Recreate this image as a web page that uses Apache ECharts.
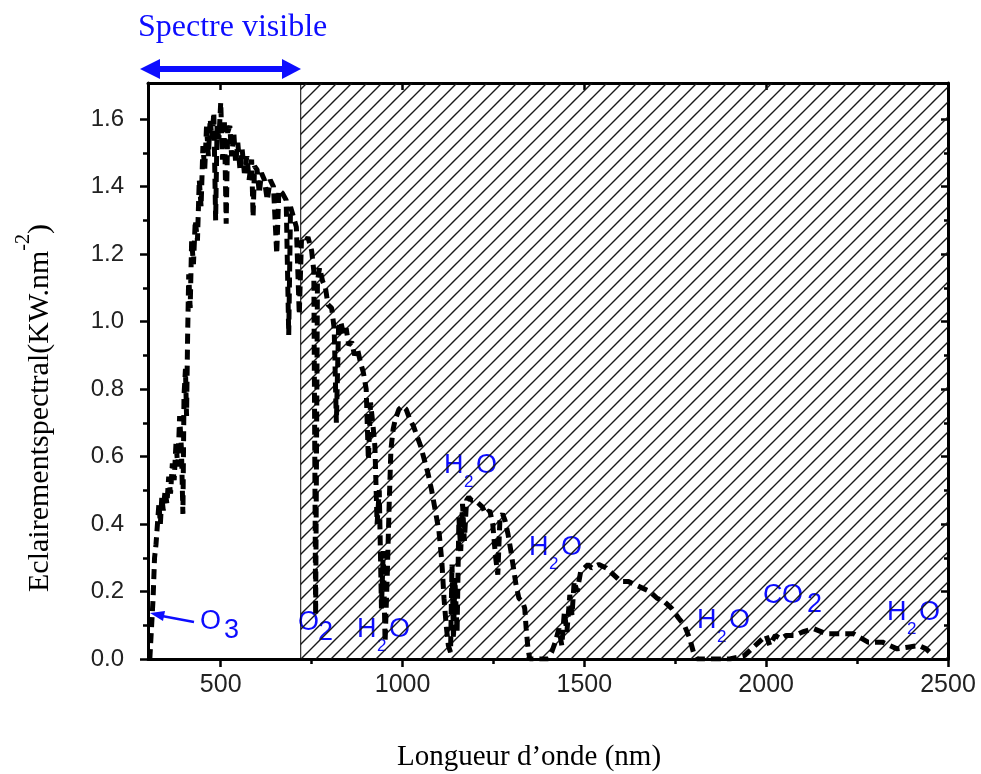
<!DOCTYPE html>
<html>
<head>
<meta charset="utf-8">
<script src="https://cdn.jsdelivr.net/npm/echarts@6.0.0/dist/echarts.min.js"></script>
<style>
  html, body { margin: 0; padding: 0; background: #fff; }
  #chart { width: 981px; height: 774px; }
</style>
</head>
<body>
<div id="chart"></div>
<script>
// spectre solaire (nm, kW)
const wavelength = [
  305, 310, 314, 318, 322, 326, 330, 334, 338, 342,
  347, 352, 357, 362, 367, 372, 377, 382, 387, 392,
  396, 399, 403, 406, 409, 412, 416, 420, 425, 430,
  436, 441, 446, 451, 456, 461, 466, 471, 476, 481,
  486, 490, 495, 500, 505, 510, 515, 519, 525, 530,
  536, 541, 547, 553, 559, 565, 572, 578, 585, 589,
  593, 600, 606, 612, 620, 628, 636, 645, 654, 660,
  670, 680, 687, 692, 700, 708, 716, 722, 730, 740,
  750, 756, 761, 766, 772, 780, 788, 795, 805, 812,
  818, 824, 830, 838, 845, 852, 860, 868, 876, 884,
  892, 900, 906, 912, 918, 924, 930, 936, 942, 947,
  952, 958, 963, 968, 974, 980, 990, 1000, 1010, 1020,
  1030, 1040, 1050, 1060, 1070, 1080, 1090, 1100, 1108, 1114,
  1120, 1126, 1132, 1136, 1140, 1144, 1150, 1155, 1160, 1165,
  1170, 1176, 1182, 1190, 1200, 1210, 1220, 1228, 1240, 1248,
  1256, 1262, 1268, 1275, 1282, 1290, 1298, 1305, 1312, 1320,
  1330, 1336, 1340, 1345, 1350, 1400, 1410, 1420, 1430, 1438,
  1445, 1452, 1460, 1466, 1472, 1480, 1490, 1500, 1510, 1520,
  1540, 1560, 1580, 1600, 1620, 1640, 1660, 1680, 1700, 1720,
  1740, 1760, 1775, 1790, 1800, 1810, 1850, 1900, 1940, 1960,
  1980, 2000, 2010, 2025, 2040, 2055, 2080, 2100, 2130, 2165,
  2200, 2240, 2280, 2320, 2360, 2390, 2420, 2440, 2460
]
const irradiance = [
  0.00, 0.10, 0.18, 0.30, 0.34, 0.40, 0.46, 0.40, 0.48, 0.44,
  0.50, 0.46, 0.54, 0.49, 0.58, 0.53, 0.64, 0.57, 0.72, 0.62,
  0.43, 0.78, 0.86, 0.72, 0.96, 1.14, 1.04, 1.24, 1.17, 1.30,
  1.24, 1.42, 1.34, 1.52, 1.45, 1.58, 1.49, 1.60, 1.54, 1.62,
  1.30, 1.58, 1.54, 1.65, 1.48, 1.60, 1.29, 1.56, 1.58, 1.49,
  1.56, 1.47, 1.53, 1.45, 1.51, 1.44, 1.49, 1.42, 1.48, 1.31,
  1.46, 1.45, 1.38, 1.44, 1.42, 1.36, 1.42, 1.40, 1.20, 1.39,
  1.38, 1.36, 0.96, 1.34, 1.31, 1.28, 1.02, 1.24, 1.23, 1.25,
  1.21, 1.15, 0.13, 1.12, 1.16, 1.12, 1.10, 1.05, 1.04, 0.98,
  0.70, 0.98, 1.00, 0.96, 0.98, 0.93, 0.94, 0.90, 0.92, 0.88,
  0.85, 0.80, 0.59, 0.76, 0.70, 0.63, 0.40, 0.50, 0.15, 0.32,
  0.05, 0.25, 0.45, 0.62, 0.68, 0.71, 0.74, 0.75, 0.74, 0.71,
  0.69, 0.66, 0.63, 0.59, 0.55, 0.50, 0.44, 0.38, 0.29, 0.18,
  0.10, 0.04, 0.02, 0.28, 0.06, 0.24, 0.08, 0.42, 0.32, 0.46,
  0.35, 0.47, 0.48, 0.47, 0.47, 0.46, 0.45, 0.43, 0.44, 0.40,
  0.30, 0.25, 0.42, 0.43, 0.41, 0.37, 0.32, 0.27, 0.22, 0.18,
  0.17, 0.15, 0.09, 0.03, 0.00, 0.00, 0.02, 0.05, 0.09, 0.04,
  0.14, 0.08, 0.19, 0.13, 0.23, 0.20, 0.26, 0.27, 0.28, 0.27,
  0.28, 0.27, 0.25, 0.23, 0.23, 0.22, 0.21, 0.20, 0.18, 0.17,
  0.15, 0.12, 0.10, 0.06, 0.02, 0.00, 0.00, 0.00, 0.01, 0.03,
  0.05, 0.07, 0.04, 0.07, 0.06, 0.07, 0.07, 0.08, 0.09, 0.075,
  0.075, 0.075, 0.05, 0.05, 0.03, 0.035, 0.04, 0.03, 0.01
]

const xTicks = [500, 1000, 1500, 2000, 2500]
const xMinorTicks = [750, 1250, 1750, 2250]
const yTicks = [0, 0.2, 0.4, 0.6, 0.8, 1.0, 1.2, 1.4, 1.6]
const yMinorTicks = [0.1, 0.3, 0.5, 0.7, 0.9, 1.1, 1.3, 1.5]
const infraredStart = 720

const X_MIN = 300
const X_MAX = 2500
const Y_MAX = 1.707
const BLUE = '#0d0dff'
const SANS = "'Liberation Sans', Arial, sans-serif"
const SERIF = "'Liberation Serif', 'Times New Roman', serif"

// hachures obliques pour la zone infrarouge
const makeHatch = () => {
  const s = 15
  const c = document.createElement('canvas')
  c.width = s
  c.height = s
  const ctx = c.getContext('2d')
  ctx.strokeStyle = '#1a1a1a'
  ctx.lineWidth = 1.4
  ctx.beginPath()
  ctx.moveTo(0, s); ctx.lineTo(s, 0)
  ctx.moveTo(-2, 2); ctx.lineTo(2, -2)
  ctx.moveTo(s - 2, s + 2); ctx.lineTo(s + 2, s - 2)
  ctx.stroke()
  return c
}

const xAxisBase = (extra) => Object.assign({
  type: 'value', min: X_MIN, max: X_MAX,
  splitLine: { show: false },
  axisLine: { show: false },
  axisLabel: { show: false },
  axisTick: { show: false }
}, extra)

const yAxisBase = (extra) => Object.assign({
  type: 'value', min: 0, max: Y_MAX,
  splitLine: { show: false },
  axisLine: { show: false },
  axisLabel: { show: false },
  axisTick: { show: false }
}, extra)

const tickStyle = { color: '#000', width: 2.5 }

const txt = (x, y, s, size, fill, font, extra) => ({
  type: 'text', x, y, silent: true,
  style: Object.assign({ text: s, fontSize: size, fontFamily: font, fill, verticalAlign: 'middle', align: 'left' }, extra)
})

const h2o = (x, y) => [
  txt(x - 1, y, 'H', 27, BLUE, SANS),
  txt(x + 19, y + 16, '2', 17, BLUE, SANS),
  txt(x + 31, y, 'O', 27, BLUE, SANS)
]

const graphics = [
  txt(138, 28, 'Spectre visible', 32, BLUE, SERIF),
  { type: 'line', silent: true, shape: { x1: 156, y1: 69, x2: 286, y2: 69 }, style: { stroke: BLUE, lineWidth: 6 } },
  { type: 'polygon', silent: true, shape: { points: [[140, 69], [160, 59], [160, 79]] }, style: { fill: BLUE } },
  { type: 'polygon', silent: true, shape: { points: [[301, 69], [282, 59], [282, 79]] }, style: { fill: BLUE } },
  // O3
  { type: 'line', silent: true, shape: { x1: 194, y1: 622, x2: 162, y2: 616 }, style: { stroke: BLUE, lineWidth: 2.5 } },
  { type: 'polygon', silent: true, shape: { points: [[150, 613], [165, 611], [163, 621]] }, style: { fill: BLUE } },
  txt(200, 622, 'O', 27, BLUE, SANS),
  txt(224, 631, '3', 27, BLUE, SANS),
  // O2
  txt(298, 623, 'O', 27, BLUE, SANS),
  txt(318, 633, '2', 27, BLUE, SANS),
  // CO2
  txt(763, 596, 'C', 27, BLUE, SANS),
  txt(782, 596, 'O', 27, BLUE, SANS),
  txt(807, 605, '2', 27, BLUE, SANS),
  ...h2o(358, 630),
  ...h2o(445, 466),
  ...h2o(530, 548),
  ...h2o(698, 621),
  ...h2o(888, 613),
  // titres des axes
  txt(529, 757, 'Longueur d\u2019onde (nm)', 29, '#000', SERIF, { align: 'center' }),
  {
    type: 'text', x: 40, y: 408, rotation: Math.PI / 2, silent: true,
    style: {
      text: '{a|Eclairementspectral(KW.nm}{s|-2}{a|)}',
      align: 'center', verticalAlign: 'middle', fill: '#000',
      rich: {
        a: { fontSize: 30, fontFamily: SERIF, lineHeight: 32 },
        s: { fontSize: 20, fontFamily: SERIF, lineHeight: 20, padding: [0, 0, 32, 0] }
      }
    }
  }
]

const chart = echarts.init(document.getElementById('chart'))
chart.setOption({
  animation: false,
  backgroundColor: '#fff',
  grid: { left: 148, right: 33, top: 83, bottom: 115 },
  xAxis: [
    xAxisBase({
      position: 'bottom',
      axisLine: { show: true, onZero: false, lineStyle: { color: '#000', width: 3 } },
      axisTick: { show: true, length: 8, customValues: xTicks, lineStyle: tickStyle },
      axisLabel: {
        show: true, customValues: xTicks, margin: 14, fontSize: 25, fontFamily: SANS, color: '#222',
        formatter: (v) => String(v)
      }
    }),
    xAxisBase({ position: 'bottom', axisTick: { show: true, length: 5, customValues: xMinorTicks, lineStyle: tickStyle } }),
    xAxisBase({
      position: 'top',
      axisLine: { show: true, onZero: false, lineStyle: { color: '#000', width: 3 } },
      axisTick: { show: true, inside: true, length: 7, customValues: xTicks, lineStyle: tickStyle }
    }),
    xAxisBase({ position: 'top', axisTick: { show: true, inside: true, length: 4, customValues: xMinorTicks, lineStyle: tickStyle } })
  ],
  yAxis: [
    yAxisBase({
      position: 'left',
      axisLine: { show: true, onZero: false, lineStyle: { color: '#000', width: 3 } },
      axisTick: { show: true, length: 8, customValues: yTicks, lineStyle: tickStyle },
      axisLabel: {
        show: true, customValues: yTicks, margin: 24, fontSize: 24, fontFamily: SANS, color: '#222',
        formatter: (v) => v.toFixed(1)
      }
    }),
    yAxisBase({ position: 'left', axisTick: { show: true, length: 5, customValues: yMinorTicks, lineStyle: tickStyle } }),
    yAxisBase({
      position: 'right',
      axisLine: { show: true, onZero: false, lineStyle: { color: '#000', width: 3 } },
      axisTick: { show: true, inside: true, length: 7, customValues: yTicks, lineStyle: tickStyle }
    }),
    yAxisBase({ position: 'right', axisTick: { show: true, inside: true, length: 4, customValues: yMinorTicks, lineStyle: tickStyle } })
  ],
  series: [
    {
      type: 'line',
      xAxisIndex: 0,
      yAxisIndex: 0,
      data: wavelength.map((w, i) => [w, irradiance[i]]),
      showSymbol: false,
      symbol: 'none',
      lineStyle: { color: '#000', width: 5, type: [10, 6] },
      markArea: {
        silent: true,
        itemStyle: {
          color: { image: makeHatch(), repeat: 'repeat' },
          opacity: 1,
          borderColor: '#000',
          borderWidth: 1
        },
        data: [[{ xAxis: infraredStart }, { xAxis: X_MAX }]]
      }
    }
  ],
  graphic: graphics
})
</script>
</body>
</html>
